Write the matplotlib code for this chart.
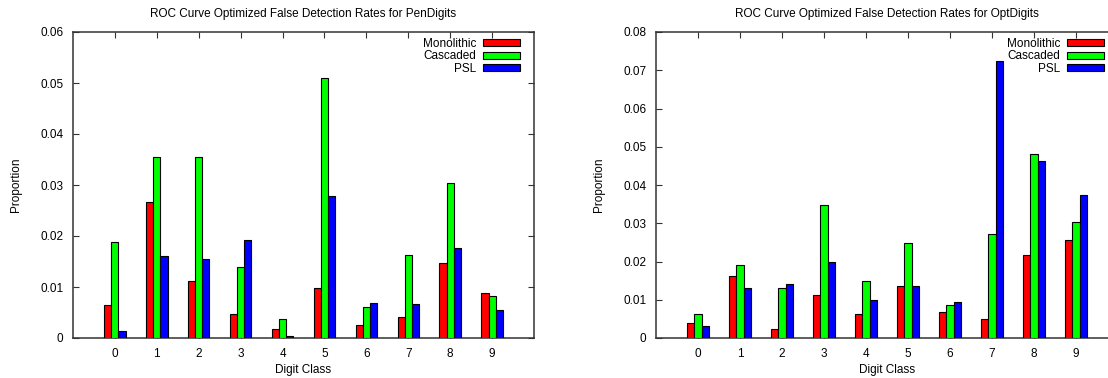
import matplotlib
matplotlib.use('Agg')
import matplotlib.pyplot as plt
import numpy as np

plt.rcParams['font.family'] = ['Liberation Sans', 'DejaVu Sans']
plt.rcParams['font.size'] = 8.5

digits = np.arange(10)
series_names = ['Monolithic', 'Cascaded', 'PSL']
series_colors = ['#ff0000', '#00ff00', '#0000ff']

# PenDigits false detection rates
pen_mono = [0.0064, 0.0266, 0.0112, 0.0048, 0.0018, 0.0099, 0.0025, 0.0042, 0.0148, 0.0089]
pen_casc = [0.0188, 0.0354, 0.0354, 0.0139, 0.0037, 0.0509, 0.0060, 0.0163, 0.0304, 0.0083]
pen_psl = [0.0013, 0.0160, 0.0154, 0.0193, 0.0003, 0.0279, 0.0069, 0.0067, 0.0177, 0.0054]

# OptDigits false detection rates
opt_mono = [0.0038, 0.0161, 0.0024, 0.0112, 0.0062, 0.0137, 0.0069, 0.0049, 0.0216, 0.0255]
opt_casc = [0.0062, 0.0192, 0.0130, 0.0347, 0.0148, 0.0248, 0.0087, 0.0272, 0.0481, 0.0304]
opt_psl = [0.0031, 0.0130, 0.0142, 0.0198, 0.0099, 0.0137, 0.0093, 0.0724, 0.0462, 0.0373]

pen_yticks = [0, 0.01, 0.02, 0.03, 0.04, 0.05, 0.06]
pen_ylabels = ['0', '0.01', '0.02', '0.03', '0.04', '0.05', '0.06']
opt_yticks = [0, 0.01, 0.02, 0.03, 0.04, 0.05, 0.06, 0.07, 0.08]
opt_ylabels = ['0', '0.01', '0.02', '0.03', '0.04', '0.05', '0.06', '0.07', '0.08']

W, H = 1108, 378
BAR_W = 0.17


def draw_panel(ax, data, title, yticks, ylabels):
    for k, (vals, name, col) in enumerate(zip(data, series_names, series_colors)):
        ax.bar(digits + (k - 1) * BAR_W, vals, width=BAR_W, color=col,
               edgecolor='black', linewidth=0.8, label=name, zorder=3)
    ax.set_xlim(-1, 10)
    ax.set_ylim(yticks[0], yticks[-1])
    ax.set_xticks(digits)
    ax.set_yticks(yticks)
    ax.set_yticklabels(ylabels)
    ax.tick_params(direction='in', top=True, right=True, length=4,
                   width=0.8, color='#333333', pad=7)
    for s in ax.spines.values():
        s.set_linewidth(1.1)
        s.set_color('#333333')
    ax.set_title(title, fontsize=8.5, pad=11)
    ax.set_xlabel('Digit Class', labelpad=3)
    ax.set_ylabel('Proportion', labelpad=13)
    ax.legend(loc='upper right', bbox_to_anchor=(1 - 14 / 461, 1 - 6 / 306),
              frameon=False, markerfirst=False, borderpad=0, borderaxespad=0,
              handlelength=3.1, handleheight=0.55, handletextpad=0.6,
              labelspacing=0.04, fontsize=8.5)


fig = plt.figure(figsize=(W / 100, H / 100), dpi=100)
ax1 = fig.add_axes([73 / W, 1 - 338 / H, 461 / W, 306 / H])
ax2 = fig.add_axes([656 / W, 1 - 338 / H, 462 / W, 306 / H])

draw_panel(ax1, [pen_mono, pen_casc, pen_psl],
           'ROC Curve Optimized False Detection Rates for PenDigits',
           pen_yticks, pen_ylabels)
draw_panel(ax2, [opt_mono, opt_casc, opt_psl],
           'ROC Curve Optimized False Detection Rates for OptDigits',
           opt_yticks, opt_ylabels)

fig.savefig('out.png', dpi=100)
